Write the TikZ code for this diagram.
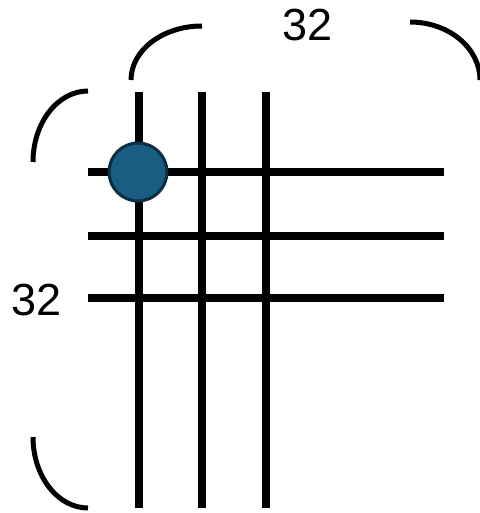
\documentclass[tikz,border=0pt]{standalone}
\usepackage{fontspec}
\setmainfont{Liberation Sans}
\definecolor{dotfill}{HTML}{175E82}
\definecolor{dotedge}{HTML}{0C2E42}
\tikzset{
  gridline/.style={line width=7.5pt},
  bracearc/.style={line width=5pt},
  lbl/.style={font=\fontsize{45}{45}\selectfont, inner sep=0pt}
}
\begin{document}
\begin{tikzpicture}[x=1pt,y=-1pt]
\useasboundingbox (0,0) rectangle (479,513);
% vertical grid lines
\foreach \xx in {139,202,266} \draw[gridline] (\xx,92) -- (\xx,508);
% horizontal grid lines
\foreach \yy in {172,236,298} \draw[gridline] (88,\yy) -- (444,\yy);
% dot
\node[circle, draw=dotedge, fill=dotfill, line width=3pt, minimum width=58pt, inner sep=0pt] (dot) at (138,172) {};
% top brace
\draw[bracearc] (131,80) arc[start angle=180, end angle=90, x radius=71, y radius=-54];
\draw[bracearc] (410,22) arc[start angle=90, end angle=0, x radius=70, y radius=-58];
\node[lbl] (toplabel) at (308,25) {32};
% left brace
\draw[bracearc] (88,91) arc[start angle=90, end angle=180, x radius=55, y radius=-71];
\draw[bracearc] (33,437) arc[start angle=180, end angle=270, x radius=55, y radius=-71];
\node[lbl] (leftlabel) at (37,300) {32};
\end{tikzpicture}
\end{document}
